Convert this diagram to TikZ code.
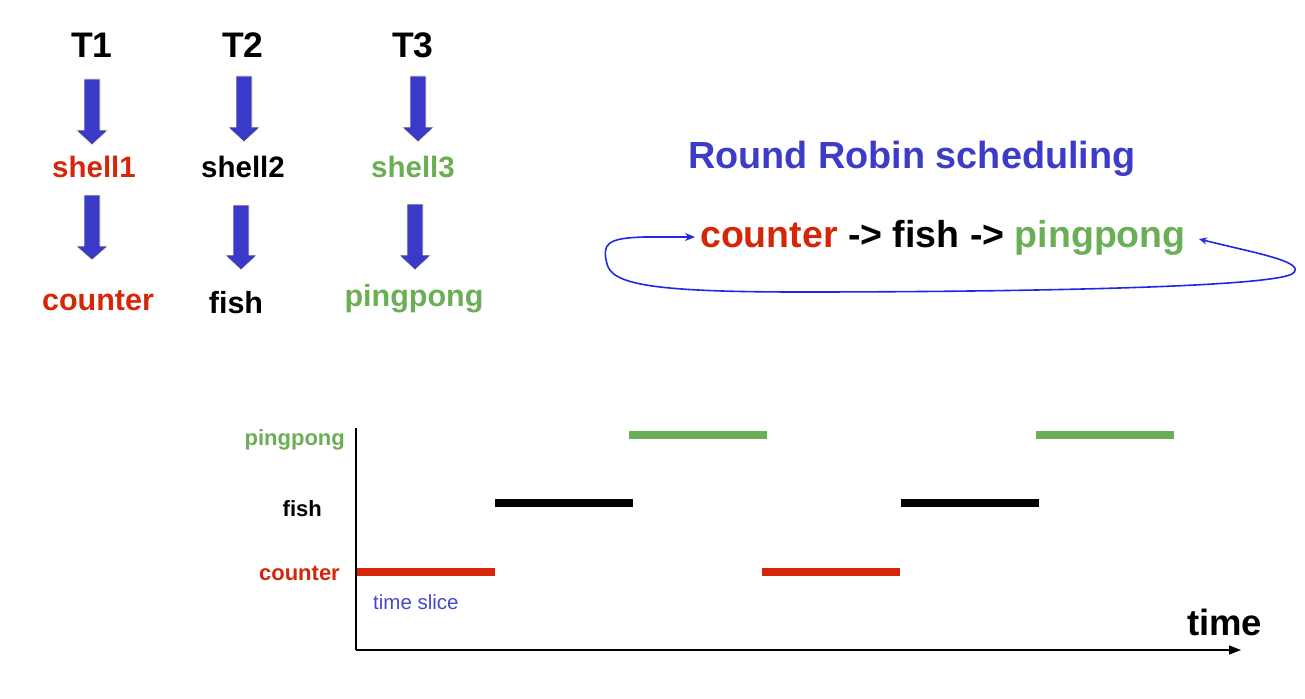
\documentclass[tikz,border=0pt]{standalone}
\usepackage{fontspec}
\setmainfont{Liberation Sans}
\usetikzlibrary{arrows.meta}
\definecolor{ared}{RGB}{214,38,10}
\definecolor{agreen}{RGB}{106,174,86}
\definecolor{ablue}{RGB}{58,58,200}
\definecolor{tblue}{RGB}{60,60,200}
\definecolor{lblue}{RGB}{30,40,230}
\definecolor{sblue}{RGB}{70,70,210}
\tikzset{
  big/.style={font=\fontsize{35.5}{40}\selectfont\bfseries, anchor=base, inner sep=0},
  shl/.style={font=\fontsize{29.5}{34}\selectfont\bfseries, anchor=base, inner sep=0},
  prog/.style={font=\fontsize{30.5}{35}\selectfont\bfseries, anchor=base, inner sep=0},
  ylab/.style={font=\fontsize{22}{26}\selectfont\bfseries, anchor=base east, inner sep=0},
  bar/.style={line width=8pt},
  blk/.style={fill=ablue, draw=yellow!25, line width=0.6pt},
}
\newcommand\blockarrow[4]{% center x, top, head start, tip
  \path[blk] (#1-8,#2) -- (#1+8,#2) -- (#1+8,#3) -- (#1+16,#3) -- (#1,#4) -- (#1-16,#3) -- (#1-8,#3) -- cycle;}
\begin{document}
\begin{tikzpicture}[x=1pt,y=-1pt]
\useasboundingbox (0,0) rectangle (1305,698);
% top-left columns
\node[big] (t1) at (92,58) {T1};
\node[big] (t2) at (243,58) {T2};
\node[big] (t3) at (413,58) {T3};
\node[shl,text=ared] (s1) at (94,177) {shell1};
\node[shl] (s2) at (243,177) {shell2};
\node[shl,text=agreen] (s3) at (413,177) {shell3};
\node[prog,text=ared] (p1) at (98,310) {counter};
\node[prog] (p2) at (236,313) {fish};
\node[prog,text=agreen] (p3) at (414,306) {pingpong};
\blockarrow{92}{79}{130}{145}
\blockarrow{92}{195}{246}{260}
\blockarrow{244}{76}{127}{142}
\blockarrow{241}{205}{255}{270}
\blockarrow{418}{76}{127}{142}
\blockarrow{415}{204}{255}{270}
% title
\node[font=\fontsize{37.8}{42}\selectfont\bfseries, text=tblue, anchor=base west, inner sep=0] (title) at (688,168) {Round Robin scheduling};
\node[font=\fontsize{37.5}{44}\selectfont\bfseries, anchor=base west, inner sep=0] (seq) at (700,247)
  {\textcolor{ared}{counter} -> fish -> \textcolor{agreen}{pingpong}};
\coordinate (loopstart) at (1199,239);
\coordinate (loopend) at (695,237);
\draw[lblue, line width=1.6pt, {Stealth[length=8pt,width=7pt]}-{Stealth[length=10pt,width=8pt]}]
  (loopstart) .. controls (1250,252) and (1310,262) .. (1292,274)
  .. controls (1265,288) and (1000,292) .. (800,292)
  .. controls (650,292) and (612,284) .. (607,264)
  .. controls (602,244) and (606,238) .. (645,237) -- (loopend);
% chart
\coordinate (origin) at (356,650);
\coordinate (ytop) at (356,428);
\coordinate (xend) at (1241,650);
\draw[line width=1.3pt] (ytop) -- (origin);
\draw[line width=1.3pt, -{Triangle[length=12pt,width=9pt]}] (origin) -- (xend);
\node[ylab,text=agreen] (lpp) at (345,445) {pingpong};
\node[ylab] (lfish) at (322,516) {fish};
\node[ylab,text=ared] (lcnt) at (340,580) {counter};
\node[font=\fontsize{20.5}{24}\selectfont, text=sblue, anchor=base west, inner sep=0] (slice) at (373,609) {time slice};
\node[font=\fontsize{36.5}{42}\selectfont\bfseries, anchor=base west, inner sep=0] (time) at (1187,635) {time};
\draw[bar,agreen] (629,435) -- (767,435);
\draw[bar,agreen] (1036,435) -- (1174,435);
\draw[bar,black] (495,503) -- (633,503);
\draw[bar,black] (901,503) -- (1039,503);
\draw[bar,ared] (357,572) -- (495,572);
\draw[bar,ared] (762,572) -- (900,572);
\end{tikzpicture}
\end{document}
